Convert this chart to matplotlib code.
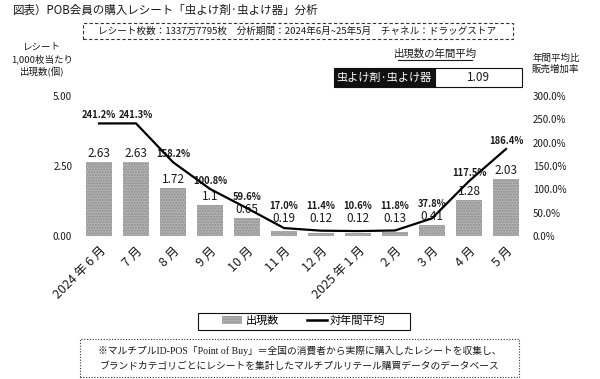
import matplotlib
matplotlib.use("Agg")
import matplotlib.pyplot as plt
from matplotlib.patches import Rectangle, Patch
from matplotlib.lines import Line2D

plt.rcParams['font.family'] = ['Noto Sans CJK JP', 'DejaVu Sans']

# data
months = ['2024 年 6 月', '7 月', '8 月', '9 月', '10 月', '11 月', '12 月',
          '2025 年 1 月', '2 月', '3 月', '4 月', '5 月']
counts = [2.63, 2.63, 1.72, 1.1, 0.65, 0.19, 0.12, 0.12, 0.13, 0.41, 1.28, 2.03]
count_labels = ['2.63', '2.63', '1.72', '1.1', '0.65', '0.19', '0.12', '0.12',
                '0.13', '0.41', '1.28', '2.03']
vs_avg = [241.2, 241.3, 158.2, 100.8, 59.6, 17.0, 11.4, 10.6, 11.8, 37.8, 117.5, 186.4]
left_ticks = [0, 2.5, 5]
right_ticks = [0, 50, 100, 150, 200, 250, 300]
annual_avg = '1.09'
category = '虫よけ剤·虫よけ器'

W, H = 600, 379
TXT = '#1a1a1a'


def fx(px):
    return px / W


def fy(py):
    return 1 - py / H


fig = plt.figure(figsize=(6, 3.79), dpi=100)
ax = fig.add_axes([fx(80.5), fy(236), (524.5 - 80.5) / W, 140 / H])
ax2 = ax.twinx()

x = list(range(len(months)))
ax.bar(x, counts, width=0.7, color='#b3b3b3', hatch='......', edgecolor='#8c8c8c', linewidth=0)
ax.set_xlim(-0.5, len(months) - 0.5)
ax.set_ylim(0, 5)
ax2.set_ylim(0, 300)
ax2.plot(x, vs_avg, color='black', linewidth=1.6)

ax.set_yticks(left_ticks)
ax.set_yticklabels([f'{t:.2f}' for t in left_ticks], fontsize=7, color=TXT)
ax2.set_yticks(right_ticks)
ax2.set_yticklabels([f'{t:.1f}%' for t in right_ticks], fontsize=7, color=TXT)
ax.set_xticks(x)
ax.set_xticklabels(months, rotation=45, ha='right', rotation_mode='anchor',
                   fontsize=9, color=TXT)
ax.tick_params(axis='both', length=0, pad=6)
ax2.tick_params(axis='both', length=0, pad=6)
for a in (ax, ax2):
    for s in a.spines.values():
        s.set_visible(False)

# value labels: bar value above the bar, ratio above that (or above the line)
for i, (v, p) in enumerate(zip(counts, vs_avg)):
    yb = max(v + 0.3, 0.64)
    ax.text(i, yb, count_labels[i], ha='center', va='center', fontsize=8.5, color=TXT)
    yp = max(yb + 0.43, p / 60 + 0.3)
    ax.text(i, yp, f'{p:.1f}%', ha='center', va='center', fontsize=6.8,
            fontweight='bold', color=TXT, zorder=5)

# title and header annotations
fig.text(fx(13), fy(10), '図表）POB会員の購入レシート「虫よけ剤·虫よけ器」分析',
         fontsize=8.3, color=TXT, va='center', ha='left')
fig.add_artist(Rectangle((fx(83), fy(39)), fx(513) - fx(83), fy(23) - fy(39),
                         transform=fig.transFigure, fill=False, edgecolor='#333',
                         linewidth=0.8, linestyle=(0, (3, 2))))
fig.text(fx(297), fy(31),
         'レシート枚数：1337万7795枚　分析期間：2024年6月~25年5月　チャネル：ドラッグストア',
         fontsize=6.9, color=TXT, ha='center', va='center')
fig.text(fx(42), fy(60), 'レシート\n1,000枚当たり\n出現数(個)', fontsize=6.8,
         color=TXT, ha='center', va='center', linespacing=1.3)
fig.text(fx(556), fy(64), '年間平均比\n販売増加率', fontsize=6.8,
         color=TXT, ha='center', va='center', linespacing=1.3)
fig.text(fx(435), fy(54), '出現数の年間平均', fontsize=7.5, color=TXT,
         ha='center', va='center')
fig.add_artist(Line2D([fx(398), fx(472)], [fy(60), fy(60)], transform=fig.transFigure,
                      color=TXT, linewidth=0.8))
fig.add_artist(Rectangle((fx(334), fy(87)), fx(435) - fx(334), fy(68) - fy(87),
                         transform=fig.transFigure, facecolor='#111', edgecolor='#111',
                         linewidth=0.8))
fig.add_artist(Rectangle((fx(435), fy(87)), fx(522) - fx(435), fy(68) - fy(87),
                         transform=fig.transFigure, facecolor='white', edgecolor='#111',
                         linewidth=0.8))
fig.text(fx(384), fy(77.5), category, fontsize=8, color='white', ha='center', va='center')
fig.text(fx(478), fy(77.5), annual_avg, fontsize=8.5, color=TXT, ha='center', va='center')

# legend (frame drawn separately so it can be wider than the entries)
handles = [Patch(facecolor='#b3b3b3', hatch='......', edgecolor='#8c8c8c', linewidth=0),
           Line2D([0], [0], color='black', linewidth=1.8)]
fig.legend(handles, ['出現数', '対年間平均'], loc='center',
           bbox_to_anchor=(fx(304), fy(321)), ncol=2, fontsize=8,
           frameon=False, handlelength=1.8, handletextpad=0.3, columnspacing=2.5)
fig.add_artist(Rectangle((fx(198), fy(330)), fx(410) - fx(198), fy(313) - fy(330),
                         transform=fig.transFigure, fill=False, edgecolor='#111',
                         linewidth=0.8))

# footnote
fig.add_artist(Rectangle((fx(80), fy(377)), fx(519) - fx(80), fy(339) - fy(377),
                         transform=fig.transFigure, fill=False, edgecolor='#333',
                         linewidth=0.8, linestyle=(0, (1, 1.5))))
fig.text(fx(300), fy(351),
         '※マルチプルID-POS「Point of Buy」＝全国の消費者から実際に購入したレシートを収集し、',
         fontsize=7, color=TXT, ha='center', va='center',
         family=['Liberation Serif', 'Noto Sans CJK JP'])
fig.text(fx(300), fy(366),
         'ブランドカテゴリごとにレシートを集計したマルチプルリテール購買データのデータベース',
         fontsize=7, color=TXT, ha='center', va='center',
         family=['Liberation Serif', 'Noto Sans CJK JP'])

fig.savefig('out.png', dpi=100)
plt.close(fig)
